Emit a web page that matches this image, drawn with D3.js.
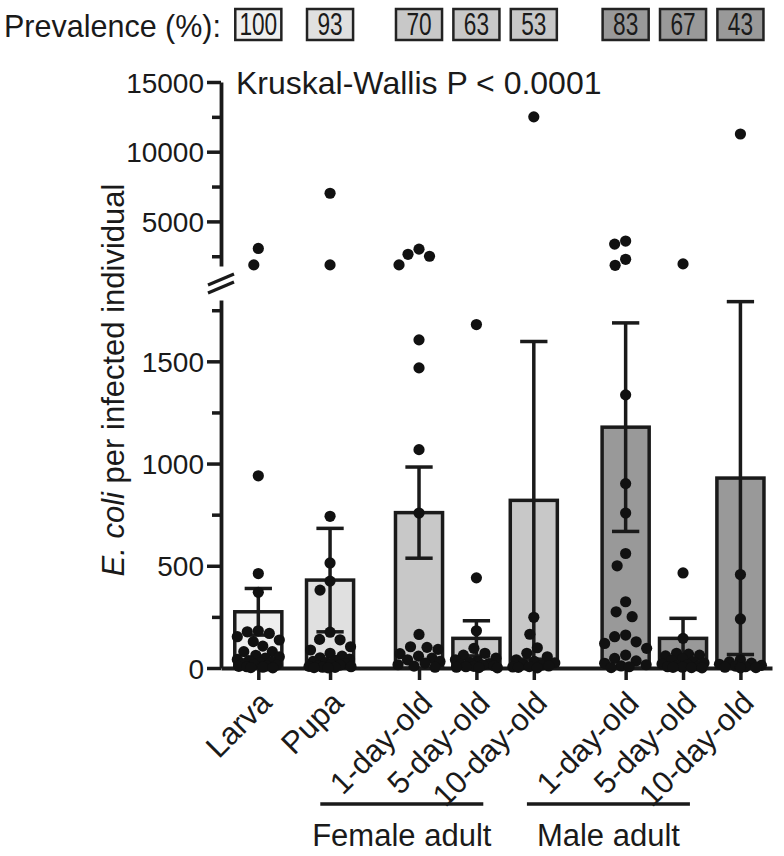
<!DOCTYPE html>
<html><head><meta charset="utf-8">
<script src="https://cdn.jsdelivr.net/npm/d3@7"></script>
<style>body{margin:0;background:#fff}svg{display:block;font-family:Arial,"Liberation Sans",Helvetica,sans-serif}</style>
</head><body><svg id="c" width="784" height="856"></svg>
<script>
// ---------- data ----------
const categories = ["Larva","Pupa","1-day-old","5-day-old","10-day-old","1-day-old","5-day-old","10-day-old"];
const stages = ["Larva","Pupa","Female adult","Female adult","Female adult","Male adult","Male adult","Male adult"];
const groupLabels = ["Female adult","Male adult"];
const prevalence = [100,93,70,63,53,83,67,43];
const means = [275,430,760,145,820,1178,145,929];
const sems = [114,253,223,86,777,510,98,863];
const larvaPts = [3060,1880,940,462,370,182,177,169,153,137,129,107,80,80,62,55,48,42,36,30,26,22,18,14,10,8,6,4,2,1];
const pupaPts = [7020,1880,742,514,425,381,175,140,138,104,88,72,58,50,44,38,32,27,22,18,14,11,8,6,4,3,2,1];
const female1Pts = [3010,2640,2500,1880,1605,1468,1068,758,164,104,101,91,70,58,48,40,32,24,16,9,4];
const female5Pts = [1680,441,182,96,72,63,48,40,34,28,22,18,14,11,8,6,4,2,1];
const female10Pts = [12500,248,165,99,72,55,40,32,25,18,14,10,7,5,3,1];
const male1Pts = [3590,3370,2280,1850,1336,902,758,560,500,324,275,251,161,153,128,120,96,63,47,35,23,16,10,6,2];
const male5Pts = [1950,465,145,72,68,63,59,45,38,30,25,20,16,12,9,6,4,3,2,1];
const male10Pts = [11270,457,240,40,30,24,18,13,9,6,4,2,1];
const pointsByCategory = [larvaPts,pupaPts,female1Pts,female5Pts,female10Pts,male1Pts,male5Pts,male10Pts];
const lowerTicks = [0,500,1000,1500];
const lowerMinorTicks = [250,750,1250,1750];
const upperTicks = [5000,10000,15000];
const upperMinorTicks = [2500,7500,12500];
const breakValue = 1800;
const yTitleItalic = "E. coli";
const yTitleRest = " per infected individual";
const statText = "Kruskal-Wallis P < 0.0001";
const prevalenceLabel = "Prevalence (%):";

// ---------- layout ----------
const svg = d3.select("#c");
const ink = "#1a1a1a";
const fill = d3.scaleOrdinal().domain(["Larva","Pupa","Female adult","Male adult"])
  .range(["#efefef","#e0e0e0","#c8c8c8","#999999"]);
const gapBefore = [0,0.25,0.8,0.8,0.8,1.4,1.4,1.4];
const slots = categories.map((c,i)=>i+gapBefore[i]);
const x = d3.scaleLinear().domain([-0.65, 8.95]).range([221, 772]);
const unit = x(1)-x(0);
const bw = unit*0.82;
const yLow = d3.scaleLinear().domain([0, breakValue]).range([668, 300]);
const yUp = d3.scaleLinear().domain([breakValue, 15000]).range([266, 82]);
const yOf = v => v >= breakValue ? yUp(v) : yLow(v);
const FS_TICK = 28, FS = 31;

// ---------- y axes ----------
function styleAxis(g){
  g.selectAll("path.domain").attr("stroke", ink).attr("stroke-width", 3.8);
  g.selectAll(".tick line").attr("stroke", ink).attr("stroke-width", 3.5);
  g.selectAll(".tick text").attr("font-size", FS_TICK).attr("fill", ink).attr("font-family","Arial, 'Liberation Sans', sans-serif");
}
const axX = x.range()[0];
const fmt = d3.format("d");
const gLow = svg.append("g").attr("transform",`translate(${axX},0)`)
  .call(d3.axisLeft(yLow).tickValues(lowerTicks).tickFormat(fmt).tickSize(14).tickSizeOuter(0).tickPadding(3));
styleAxis(gLow);
const gLowMinor = svg.append("g").attr("transform",`translate(${axX},0)`)
  .call(d3.axisLeft(yLow).tickValues(lowerMinorTicks).tickSize(9).tickFormat(""));
gLowMinor.select("path.domain").remove(); styleAxis(gLowMinor);
const gUp = svg.append("g").attr("transform",`translate(${axX},0)`)
  .call(d3.axisLeft(yUp).tickValues(upperTicks).tickFormat(fmt).tickSize(14).tickSizeOuter(0).tickPadding(3));
styleAxis(gUp);
const gUpMinor = svg.append("g").attr("transform",`translate(${axX},0)`)
  .call(d3.axisLeft(yUp).tickValues(upperMinorTicks).tickSize(9).tickFormat(""));
gUpMinor.select("path.domain").remove(); styleAxis(gUpMinor);
[gLow,gUp].forEach(g=>g.selectAll(".tick text").attr("dy","0.36em"));

// break marks
const midBreak = (yLow.range()[1] + yUp.range()[0]) / 2;
[-4,4].forEach(o=>{
  svg.append("line").attr("x1",axX-13).attr("y1",midBreak+o+6).attr("x2",axX+13).attr("y2",midBreak+o-5)
    .attr("stroke",ink).attr("stroke-width",3.2);
});

// ---------- x axis ----------
const gX = svg.append("g").attr("transform",`translate(0,${yLow(0)})`)
  .call(d3.axisBottom(x).tickValues(slots).tickFormat((d,i)=>categories[i]).tickSize(12).tickSizeOuter(0));
gX.select("path.domain").attr("stroke",ink).attr("stroke-width",3.8);
gX.selectAll(".tick line").attr("stroke",ink).attr("stroke-width",3.5);
gX.selectAll(".tick text").attr("font-size",FS).attr("fill",ink)
  .attr("x",0).attr("y",0).attr("dy","0.35em").attr("text-anchor","end")
  .attr("transform","translate(7,29) rotate(-45)");

// ---------- bars ----------
const data = categories.map((c,i)=>({c, i, stage: stages[i], mean: means[i], sem: sems[i], cx: x(slots[i])}));
svg.append("g").selectAll("rect").data(data).join("rect")
  .attr("x",d=>d.cx-bw/2).attr("width",bw)
  .attr("y",d=>yLow(d.mean)).attr("height",d=>yLow(0)-yLow(d.mean))
  .attr("fill",d=>fill(d.stage)).attr("stroke",ink).attr("stroke-width",3.5);

// ---------- points (beeswarm) ----------
function swarm(vals, cx){
  const placed = [];
  const R = 11, RY = 18, maxHalf = 21;
  const cands = [0]; for (let d=0.5; d<=maxHalf; d+=0.5) cands.push(-d,d);
  return vals.slice().sort((a,b)=>b-a).map(v=>{
    const y = yOf(v);
    let best = 0, bestScore = -1;
    for (const dx of cands){
      let minD = Infinity;
      for (const p of placed){ const nd = Math.hypot((p.dx-dx)/R,(p.y-y)/RY); if(nd<minD) minD=nd; }
      if (minD >= 1){ best = dx; break; }
      if (minD > bestScore){ bestScore = minD; best = dx; }
    }
    placed.push({dx:best, y});
    return {v, x: cx+best, y};
  });
}
const pts = data.flatMap(d=>swarm(pointsByCategory[d.i], d.cx));

// ---------- error bars ----------
const eg = svg.append("g").attr("stroke",ink).attr("stroke-width",3.5);
eg.selectAll("line.v").data(data).join("line")
  .attr("x1",d=>d.cx).attr("x2",d=>d.cx)
  .attr("y1",d=>yLow(Math.max(0,d.mean-d.sem))).attr("y2",d=>yLow(d.mean+d.sem));
const capW = bw*0.58;
eg.selectAll("line.t").data(data).join("line")
  .attr("x1",d=>d.cx-capW/2).attr("x2",d=>d.cx+capW/2)
  .attr("y1",d=>yLow(d.mean+d.sem)).attr("y2",d=>yLow(d.mean+d.sem));
eg.selectAll("line.b").data(data).join("line")
  .attr("x1",d=>d.cx-capW/2).attr("x2",d=>d.cx+capW/2)
  .attr("y1",d=>yLow(Math.max(0,d.mean-d.sem))).attr("y2",d=>yLow(Math.max(0,d.mean-d.sem)));

svg.append("g").selectAll("circle").data(pts).join("circle")
  .attr("cx",d=>d.x).attr("cy",d=>d.y).attr("r",5.6).attr("fill","#111");

// ---------- prevalence row ----------
svg.append("text").attr("x",4).attr("y",37).attr("font-size",30.5).attr("fill",ink).text(prevalenceLabel);
const pg = svg.append("g");
pg.selectAll("rect").data(data).join("rect")
  .attr("x",d=>d.cx-bw/2+0.5).attr("width",bw-1).attr("y",9).attr("height",31)
  .attr("fill",d=>fill(d.stage)).attr("stroke","#222").attr("stroke-width",2.5);
pg.selectAll("text").data(data).join("text")
  .attr("x",d=>d.cx).attr("y",35).attr("text-anchor","middle")
  .attr("font-size",32).attr("fill",ink)
  .attr("textLength",d=>String(prevalence[d.i]).length*12.6).attr("lengthAdjust","spacingAndGlyphs")
  .text(d=>prevalence[d.i]);

// ---------- stat text ----------
svg.append("text").attr("x",236).attr("y",94).attr("font-size",32).attr("fill",ink).text(statText);

// ---------- y title ----------
const yt = svg.append("text").attr("transform","translate(124,380) rotate(-90)")
  .attr("text-anchor","middle").attr("font-size",FS).attr("fill",ink);
yt.append("tspan").attr("font-style","italic").text(yTitleItalic);
yt.append("tspan").text(yTitleRest);

// ---------- group labels ----------
groupLabels.forEach(g=>{
  const idx = stages.map((s,i)=>s===g?i:-1).filter(i=>i>=0);
  const x1 = x(slots[idx[0]]) - 1.72*unit, x2 = x(slots[idx[idx.length-1]]) - 0.88*unit;
  svg.append("line").attr("x1",x1).attr("x2",x2).attr("y1",804).attr("y2",804)
    .attr("stroke",ink).attr("stroke-width",3.5);
  svg.append("text").attr("x",(x1+x2)/2).attr("y",846).attr("text-anchor","middle")
    .attr("font-size",FS).attr("fill",ink).text(g);
});
</script></body></html>
